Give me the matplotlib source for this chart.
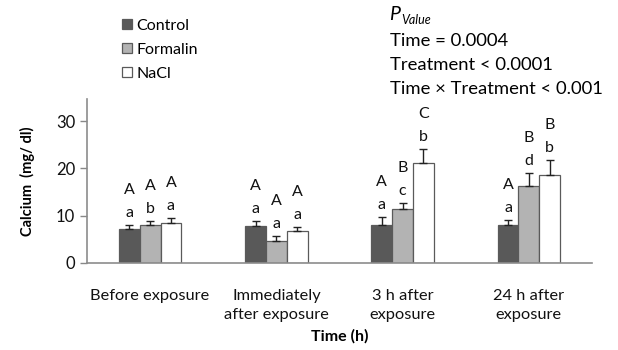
import matplotlib.pyplot as plt
import numpy as np

plt.rcParams['font.family'] = ['Lato', 'DejaVu Sans']

# data
times = ['Before exposure', 'Immediately\nafter exposure', '3 h after\nexposure', '24 h after\nexposure']
groups = ['Control', 'Formalin', 'NaCl']
control = [7.2, 7.7, 7.9, 7.9]
formalin = [7.9, 4.7, 11.5, 16.2]
nacl = [8.5, 6.7, 21.2, 18.6]
control_se = [0.7, 1.1, 1.8, 1.1]
formalin_se = [0.9, 0.9, 1.1, 2.9]
nacl_se = [0.9, 0.9, 2.9, 3.2]
upper = [['A', 'A', 'A'], ['A', 'A', 'A'], ['A', 'B', 'C'], ['A', 'B', 'B']]
lower = [['a', 'b', 'a'], ['a', 'a', 'a'], ['a', 'c', 'b'], ['a', 'd', 'b']]

means = [control, formalin, nacl]
errs = [control_se, formalin_se, nacl_se]
colors = ['#595959', '#b3b3b3', 'white']

fig = plt.figure(figsize=(6.18, 3.5), dpi=100)
ax = fig.add_axes([87 / 618, 1 - 262.7 / 350, 505 / 618, 163.5 / 350])

x = np.arange(len(times))
w = 0.165
bars = []
for i in range(3):
    xi = x + (i - 1) * w
    b = ax.bar(xi, means[i], w, color=colors[i], edgecolor='#5a5a5a', linewidth=0.9,
               label=groups[i], zorder=2)
    bars.append(b)
    ax.errorbar(xi, means[i], yerr=[np.zeros(4), errs[i]], fmt='none', ecolor='#222222',
                elinewidth=1, capsize=2.8, capthick=1, zorder=3)
    for j in range(len(times)):
        top = means[i][j] + errs[i][j]
        ax.annotate(lower[j][i], (xi[j], top), xytext=(0, 8), textcoords='offset pixels',
                    ha='center', va='baseline', fontsize=11.5, color='#111111')
        ax.annotate(upper[j][i], (xi[j], top), xytext=(0, 31), textcoords='offset pixels',
                    ha='center', va='baseline', fontsize=11.5, color='#111111')

ax.set_xlim(-0.5, 3.5)
ax.set_ylim(0, 34.7)
ax.set_yticks([0, 10, 20, 30])
ax.set_xticks(x)
ax.set_xticklabels(times, linespacing=1.45)
ax.tick_params(axis='x', length=0, pad=19, labelsize=11.8, colors='#111111')
ax.tick_params(axis='y', length=5, width=1, color='#888888', labelsize=12, labelcolor='#111111')
for s in ['top', 'right']:
    ax.spines[s].set_visible(False)
for s in ['left', 'bottom']:
    ax.spines[s].set_color('#8c8c8c')
    ax.spines[s].set_linewidth(1.2)

ax.set_ylabel('Calcium  (mg/ dl)', fontweight='bold', fontsize=10.5, labelpad=15)
ax.set_xlabel('Time (h)', fontweight='bold', fontsize=11.5, labelpad=5)

fig.legend(handles=bars, loc='upper left', bbox_to_anchor=(114 / 618, 1 - 11 / 350),
           frameon=False, fontsize=11.5, handlelength=0.6, handleheight=0.6,
           handletextpad=0.3, labelspacing=0.62, borderpad=0)

fig.text(389 / 618, 1 - 20 / 350, 'P', fontsize=14, style='italic', va='baseline')
fig.text(401 / 618, 1 - 24 / 350, 'Value', fontsize=9, style='italic', va='baseline')
fig.text(390 / 618, 1 - 41 / 350, 'Time = 0.0004', fontsize=13.3, va='center')
fig.text(390 / 618, 1 - 65 / 350, 'Treatment < 0.0001', fontsize=13.3, va='center')
fig.text(390 / 618, 1 - 89 / 350, 'Time \u00d7 Treatment < 0.001', fontsize=13.3, va='center')

fig.savefig('out.png', dpi=100)
